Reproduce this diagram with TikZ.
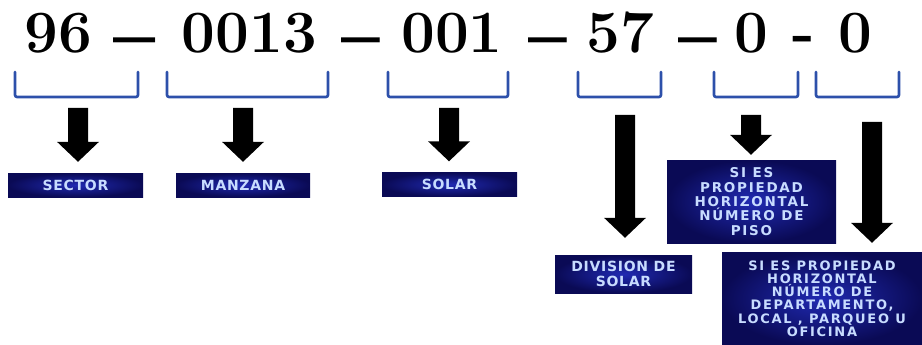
\documentclass[tikz,border=0pt]{standalone}
\usepackage{fontspec}
\usetikzlibrary{calc}
\newfontfamily\boxfont{DejaVu Sans Bold}[LetterSpace=5]
\newfontfamily\boxfontw{DejaVu Sans Bold}[LetterSpace=13]
\definecolor{brk}{RGB}{45,80,170}
\definecolor{boxin}{RGB}{32,42,178}
\definecolor{boxout}{RGB}{10,10,85}
\definecolor{boxtext}{RGB}{200,220,255}
% fat block arrow from a named coordinate down to a node (gap above its top)
\newcommand{\fatarrow}[3]{%
  \fill[arrowfill] let \p1=(#1), \p2=(#2.north) in
    (\x1-10pt,\y1) -- (\x1+10pt,\y1) -- (\x1+10pt,\y2+#3pt+20pt)
    -- (\x1+21pt,\y2+#3pt+20pt) -- (\x1,\y2+#3pt)
    -- (\x1-21pt,\y2+#3pt+20pt) -- (\x1-10pt,\y2+#3pt+20pt) -- cycle;}
\newcommand{\bigdash}[1]{\raisebox{-28.5pt}{\scalebox{#1}[2.5]{–}}}
\begin{document}
\begin{tikzpicture}[x=1pt,y=-1pt,
  title/.style={anchor=base, inner sep=0pt, font=\fontsize{60}{60}\selectfont\bfseries},
  bracket/.style={draw=brk, line width=2.6pt, rounded corners=2pt, line cap=round},
  arrowfill/.style={fill=black},
  box/.style={rectangle, inner sep=0pt, draw=none, inner color=boxin, outer color=boxout,
    text=boxtext, align=center, font=\boxfont\fontsize{14}{15}\selectfont},
]
\useasboundingbox (0,0) rectangle (922,345);

% title
\node[title] (t1) at (58.5,53) {96};
\node[title] (d1) at (134.5,53) {\bigdash{1.25}};
\node[title] (t2) at (249.5,53) {0013};
\node[title] (d2) at (361,53) {\bigdash{1.15}};
\node[title] (t3) at (452,53) {001};
\node[title] (d3) at (548,53) {\bigdash{1.15}};
\node[title] (t4) at (620,53) {57};
\node[title] (d4) at (698,53) {\bigdash{1.15}};
\node[title] (t5) at (751.5,53) {0};
\node[title] (d5) at (804,53) {-};
\node[title] (t6) at (855.5,53) {0};

% brackets
\draw[bracket] (15,72) -- (15,97) -- (138,97) -- (138,72);
\draw[bracket] (167,72) -- (167,97) -- (328,97) -- (328,72);
\draw[bracket] (388,72) -- (388,97) -- (508,97) -- (508,72);
\draw[bracket] (578,72) -- (578,97) -- (661,97) -- (661,72);
\draw[bracket] (714,72) -- (714,97) -- (798,97) -- (798,72);
\draw[bracket] (816,72) -- (816,97) -- (899,97) -- (899,72);

% boxes
\node[box, minimum width=135pt, minimum height=24pt] (b1) at (75.5,185) {SECTOR};
\node[box, minimum width=134pt, minimum height=24pt] (b2) at (243,185) {MANZANA};
\node[box, minimum width=135pt, minimum height=24pt] (b3) at (449.5,184.5) {SOLAR};
\node[box, minimum width=137pt, minimum height=38pt,
      font=\boxfont\fontsize{14}{15}\selectfont] (b4) at (623.5,274) {DIVISION DE\\SOLAR};
\node[box, minimum width=169pt, minimum height=83pt,
      font=\boxfontw\fontsize{13.5}{14.3}\selectfont] (b5) at (751.5,201.5)
      {SI ES\\PROPIEDAD\\HORIZONTAL\\NÚMERO DE\\PISO};
\node[box, minimum width=200pt, minimum height=93pt,
      font=\boxfontw\fontsize{13}{13.2}\selectfont] (b6) at (822,298.5)
      {SI ES PROPIEDAD\\HORIZONTAL\\NÚMERO DE\\DEPARTAMENTO,\\LOCAL , PARQUEO U\\OFICINA};

% arrow starts
\coordinate (a1) at (78,108);
\coordinate (a2) at (243,108);
\coordinate (a3) at (449,108);
\coordinate (a4) at (625,115);
\coordinate (a5) at (751,115);
\coordinate (a6) at (872,122);

\fatarrow{a1}{b1}{11}
\fatarrow{a2}{b2}{11}
\fatarrow{a3}{b3}{11}
\fatarrow{a4}{b4}{17}
\fatarrow{a5}{b5}{5}
\fatarrow{a6}{b6}{9}
\end{tikzpicture}
\end{document}
